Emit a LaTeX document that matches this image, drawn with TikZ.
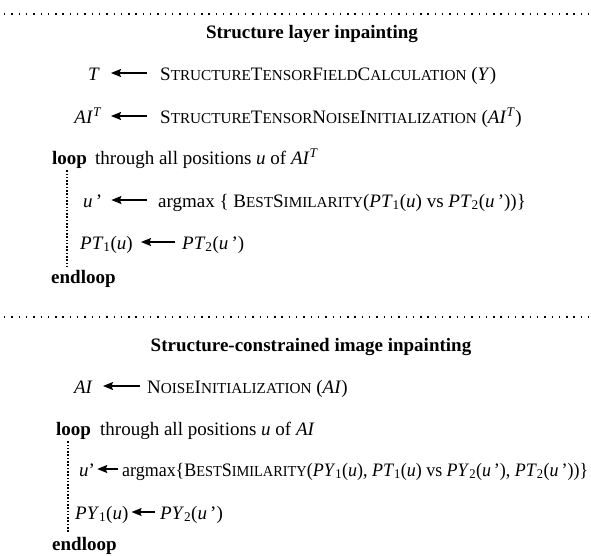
\documentclass[tikz,border=0pt]{standalone}
\usepackage{fontspec}
\setmainfont{Liberation Serif}
\usetikzlibrary{arrows.meta}
\newcommand\smc[1]{{\fontsize{15.2}{18}\selectfont #1}}
\newcommand\pr{\,’}
\begin{document}
\begin{tikzpicture}[x=1pt,y=-1pt,
  txt/.style={inner sep=0pt, anchor=base west, font=\fontsize{19}{23}\selectfont},
  rtxt/.style={txt, anchor=base east},
  ttl/.style={txt, anchor=base, font=\fontsize{19}{23}\selectfont\bfseries},
  arr/.style={-{Stealth[length=10pt,width=8pt,inset=1.5pt]}, line width=1.2pt},
  hdots/.style={line width=1.5pt, dash pattern=on 1.4pt off 5.9pt},
  vdots/.style={line width=1.8pt, dash pattern=on 1.6pt off 1.7pt}]
\useasboundingbox (0,0) rectangle (591,555);

% ---------- section 1 ----------
\draw[hdots] (4,14) -- (591,14);
\node[ttl] (ttl1) at (312,38) {Structure layer inpainting};

\node[rtxt] (t1) at (100,80) {\textit{T}};
\node[txt] (f1) at (160,80) {S\smc{TRUCTURE}T\smc{ENSOR}F\smc{IELD}C\smc{ALCULATION} (\textit{Y})};
\draw[arr] ([shift={(-13,-7)}]f1.base west) -- ([shift={(11,-7)}]t1.base east);

\node[rtxt] (a1) at (102,123) {\textit{AI}\textsuperscript{\textit{T}}};
\node[txt] (f2) at (160,123) {S\smc{TRUCTURE}T\smc{ENSOR}N\smc{OISE}I\smc{NITIALIZATION} (\textit{AI}\textsuperscript{\textit{T}})};
\draw[arr] ([shift={(-13,-7)}]f2.base west) -- ([shift={(9,-7)}]a1.base east);

\node[txt] (l1) at (52,164) {\textbf{loop}};
\node[txt] (th1) at (95,164) {through all positions \textit{u} of \textit{AI}\textsuperscript{\textit{T}}};

\node[txt] (u1) at (83,207) {\textit{u}\pr};
\node[txt] (g1) at (158,207) {argmax \{ B\smc{EST}S\smc{IMILARITY}(\textit{PT}\textsubscript{1}(\textit{u}) vs \textit{PT}\textsubscript{2}(\textit{u}\pr))\}};
\draw[arr] ([shift={(-11,-7)}]g1.base west) -- ([shift={(9,-7)}]u1.base east);

\node[txt] (p1) at (80,249) {\textit{PT}\textsubscript{1}(\textit{u})};
\node[txt] (p2) at (182,249) {\textit{PT}\textsubscript{2}(\textit{u}\pr)};
\draw[arr] ([shift={(-7,-7)}]p2.base west) -- ([shift={(8,-7)}]p1.base east);

\node[txt] (e1) at (51,283) {\textbf{endloop}};
\draw[vdots] ([shift={(15,2)}]l1.south west) -- ([shift={(16,-3)}]e1.north west);

% ---------- section 2 ----------
\draw[hdots] (4,317) -- (591,317);
\node[ttl] (ttl2) at (311,351) {Structure-constrained image inpainting};

\node[rtxt] (a2) at (93,393) {\textit{AI}};
\node[txt] (f3) at (147,393) {N\smc{OISE}I\smc{NITIALIZATION} (\textit{AI})};
\draw[arr] ([shift={(-7,-7)}]f3.base west) -- ([shift={(10,-7)}]a2.base east);

\node[txt] (l2) at (56,435) {\textbf{loop}};
\node[txt] (th2) at (100,435) {through all positions \textit{u} of \textit{AI}};

\node[txt] (u2) at (79,476) {\textit{u}’};
\node[txt] (g2) at (122,476) {\resizebox{466pt}{\height}{argmax\{B\smc{EST}S\smc{IMILARITY}(\textit{PY}\textsubscript{1}(\textit{u}), \textit{PT}\textsubscript{1}(\textit{u}) vs \textit{PY}\textsubscript{2}(\textit{u}\pr), \textit{PT}\textsubscript{2}(\textit{u}\pr))\}}};
\draw[arr] ([shift={(-4,-7)}]g2.base west) -- ([shift={(2,-7)}]u2.base east);

\node[txt] (q1) at (75,519) {\textit{PY}\textsubscript{1}(\textit{u})};
\node[txt] (q2) at (160,519) {\textit{PY}\textsubscript{2}(\textit{u}\pr)};
\draw[arr] ([shift={(-5,-7)}]q2.base west) -- ([shift={(3,-7)}]q1.base east);

\node[txt] (e2) at (52,550) {\textbf{endloop}};
\draw[vdots] ([shift={(12,2)}]l2.south west) -- ([shift={(16,-3)}]e2.north west);
\end{tikzpicture}
\end{document}
